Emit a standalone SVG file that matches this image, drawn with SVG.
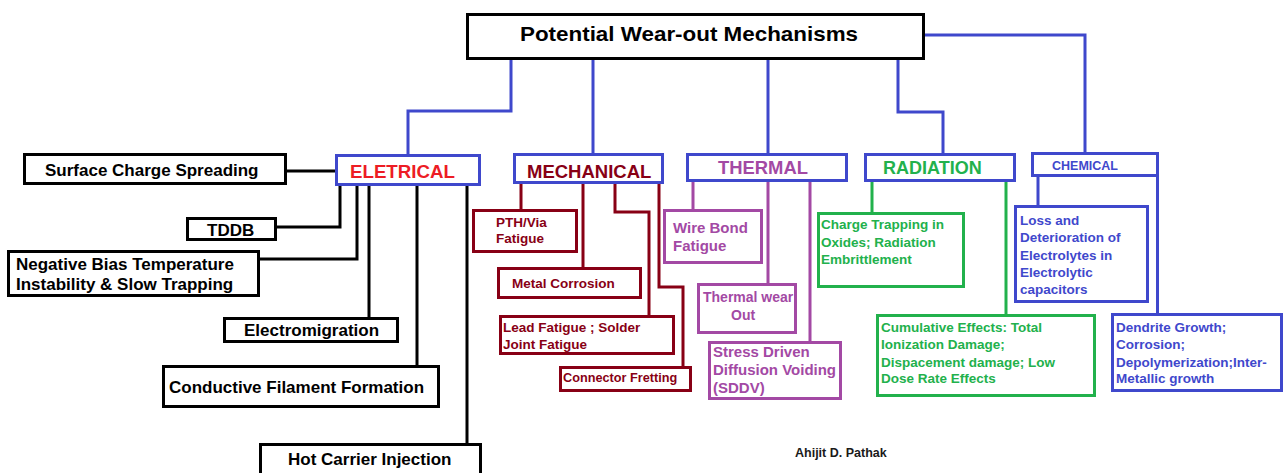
<svg xmlns="http://www.w3.org/2000/svg" width="1284" height="473" viewBox="0 0 1284 473">
<style>
text{font-family:"Liberation Sans",Arial,sans-serif;font-weight:bold}
.box{fill:#fff;stroke-width:3}
.ln{fill:none;stroke-width:3}
.k{stroke:#000}
.b{stroke:#3f48cc}
.r{stroke:#880015}
.p{stroke:#a349a4}
.g{stroke:#22b14c}
.tk{fill:#000;font-size:17px}
.tr{fill:#880015;font-size:13.5px}
.tp{fill:#a349a4;font-size:15px}
.tg{fill:#22b14c;font-size:13.5px}
.tb{fill:#3f48cc;font-size:13.5px}
</style>
<rect width="1284" height="473" fill="#fff"/>
<g id="connectors">
<path class="ln b" d="M511 59V111H408V155M593 59V154M768 59V154M898 59V112H943V154M925 35H1085V153"/>
<path class="ln k" d="M287 171H336M340 186V227H277M357 186V259H260M369 186V318M417 186V366M467 186V444"/>
<path class="ln r" d="M521 184V210M583 184V268M615 184V212H649V316M659 184V287H683V367"/>
<path class="ln p" d="M693 182V210M768 182V284M810 182V342"/>
<path class="ln g" d="M872 182V213M1006 182V315"/>
<path class="ln b" d="M1038 177V206M1157.5 177V314"/>
</g>
<g id="root"><rect class="box k" x="467.5" y="14.5" width="456" height="44"/><text x="520" y="41" font-size="21" textLength="338" lengthAdjust="spacingAndGlyphs">Potential Wear-out Mechanisms</text></g>
<g id="electrical"><rect class="box b" x="336.5" y="155.5" width="143" height="29"/><text x="350" y="178" font-size="18.7" fill="#ed1c24">ELETRICAL</text></g>
<g id="mechanical"><rect class="box b" x="514.5" y="154.5" width="148" height="28"/><text x="527" y="178" font-size="18.5" fill="#880015">MECHANICAL</text></g>
<g id="thermal"><rect class="box b" x="687.5" y="154.5" width="159" height="26"/><text x="718" y="174" font-size="18.4" fill="#a349a4">THERMAL</text></g>
<g id="radiation"><rect class="box b" x="865.5" y="154.5" width="149" height="26"/><text x="883" y="174" font-size="18" fill="#22b14c">RADIATION</text></g>
<g id="chemical"><rect class="box b" x="1032.5" y="153.5" width="125" height="22"/><text x="1052" y="170" font-size="12.5" fill="#3f48cc">CHEMICAL</text></g>

<g id="surface"><rect class="box k" x="24.5" y="154.5" width="261" height="29"/><text class="tk" x="45" y="176">Surface Charge Spreading</text></g>
<g id="tddb"><rect class="box k" x="187.5" y="218.5" width="88" height="21"/><text class="tk" x="207" y="236">TDDB</text></g>
<g id="nbti"><rect class="box k" x="8.5" y="251.5" width="250" height="44"/><text class="tk" x="16" y="270">Negative Bias Temperature</text><text class="tk" x="16" y="290">Instability &amp; Slow Trapping</text></g>
<g id="em"><rect class="box k" x="224.5" y="318.5" width="173" height="23"/><text class="tk" x="244" y="336">Electromigration</text></g>
<g id="cff"><rect class="box k" x="163.5" y="366.5" width="275" height="40"/><text class="tk" x="169" y="393">Conductive Filament Formation</text></g>
<g id="hci"><rect class="box k" x="260.5" y="444.5" width="220" height="40"/><text class="tk" x="288" y="465">Hot Carrier Injection</text></g>

<g id="pth"><rect class="box r" x="473.5" y="210.5" width="103" height="41"/><text class="tr" x="496" y="227" font-size="13">PTH/Via</text><text class="tr" x="496" y="243" font-size="13">Fatigue</text></g>
<g id="metal"><rect class="box r" x="498.5" y="268.5" width="142" height="29"/><text class="tr" x="512" y="288">Metal Corrosion</text></g>
<g id="lead"><rect class="box r" x="500.5" y="316.5" width="173" height="37"/><text class="tr" x="503" y="332">Lead Fatigue ; Solder</text><text class="tr" x="503" y="349">Joint Fatigue</text></g>
<g id="fretting"><rect class="box r" x="560.5" y="367.5" width="130" height="23"/><text class="tr" x="563" y="382" style="font-size:12.7px">Connector Fretting</text></g>

<g id="wirebond"><rect class="box p" x="664.5" y="210.5" width="97" height="52"/><text class="tp" x="673" y="233">Wire Bond</text><text class="tp" x="673" y="251">Fatigue</text></g>
<g id="twear"><rect class="box p" x="698.5" y="284.5" width="97" height="48"/><text class="tp" x="703" y="302" style="font-size:14px">Thermal wear</text><text class="tp" x="731" y="320" style="font-size:14px">Out</text></g>
<g id="sddv"><rect class="box p" x="709.5" y="342.5" width="131" height="56"/><text class="tp" x="713" y="357">Stress Driven</text><text class="tp" x="713" y="375">Diffusion Voiding</text><text class="tp" x="713" y="393">(SDDV)</text></g>

<g id="chargetrap"><rect class="box g" x="818.5" y="213.5" width="145" height="73"/><text class="tg" x="821" y="229">Charge Trapping in</text><text class="tg" x="821" y="247">Oxides; Radiation</text><text class="tg" x="821" y="264">Embrittlement</text></g>
<g id="cumulative"><rect class="box g" x="877.5" y="315.5" width="217" height="80"/><text class="tg" x="881" y="332">Cumulative Effects: Total</text><text class="tg" x="881" y="349">Ionization Damage;</text><text class="tg" x="881" y="367">Dispacement damage; Low</text><text class="tg" x="881" y="383">Dose Rate Effects</text></g>

<g id="loss"><rect class="box b" x="1015.5" y="206.5" width="132" height="95"/><text class="tb" x="1020" y="225">Loss and</text><text class="tb" x="1020" y="242">Deterioration of</text><text class="tb" x="1020" y="260">Electrolytes in</text><text class="tb" x="1020" y="277">Electrolytic</text><text class="tb" x="1020" y="294">capacitors</text></g>
<g id="dendrite"><rect class="box b" x="1112.5" y="314.5" width="169" height="76"/><text class="tb" x="1116" y="332">Dendrite Growth;</text><text class="tb" x="1116" y="349">Corrosion;</text><text class="tb" x="1116" y="367">Depolymerization;Inter-</text><text class="tb" x="1116" y="383">Metallic growth</text></g>

<g id="author"><text x="795" y="457" font-size="12.5" fill="#1a1a1a">Ahijit D. Pathak</text></g>
</svg>
